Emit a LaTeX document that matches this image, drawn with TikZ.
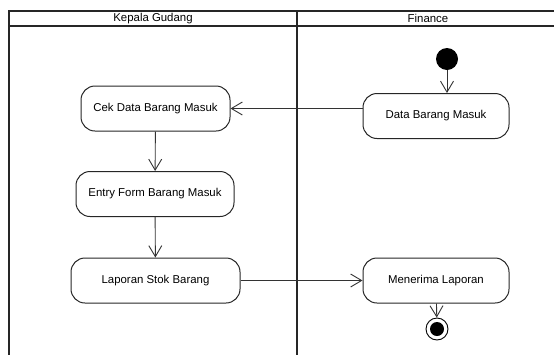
\documentclass[tikz,border=0pt]{standalone}
\usepackage{fontspec}
\setmainfont{Liberation Sans}
\usetikzlibrary{arrows.meta}
\tikzset{
  activity/.style={draw=black!85,line width=1pt,rounded corners=14pt,minimum height=45pt,inner sep=0pt,font=\fontsize{11.4}{13}\selectfont},
  flow/.style={draw=black!80,line width=0.9pt,-{Straight Barb[length=11pt,width=13pt]}},
  lane/.style={line width=2pt,black!85}
}
\begin{document}
\begin{tikzpicture}[x=1pt,y=-1pt]
\useasboundingbox (0,0) rectangle (554,354);
\clip (0,0) rectangle (554,354);
% swimlanes
\draw[lane] (560,11) -- (9,11) -- (9,360);
\draw[lane] (9,26) -- (560,26);
\draw[lane] (297,11) -- (297,360);
\draw (153,18.5) node[font=\fontsize{11.4}{13}\selectfont](kepala) {Kepala Gudang};
\draw (428,18.5) node[font=\fontsize{11.4}{13}\selectfont](finance) {Finance};
% nodes
\draw (447,59) node[circle,fill=black,minimum size=22pt,inner sep=0pt](start) {};
\draw (436,116) node[activity,minimum width=146pt](data) {Data Barang Masuk};
\draw (155.5,108.5) node[activity,minimum width=149pt](cek) {Cek Data Barang Masuk};
\draw (155,194) node[activity,minimum width=158pt](entry) {Entry Form Barang Masuk};
\draw (155.5,280.5) node[activity,minimum width=169pt](laporan) {Laporan Stok Barang};
\draw (436,280.5) node[activity,minimum width=146pt](terima) {Menerima Laporan};
\draw (437,329) node[circle,draw=black,line width=0.9pt,fill=white,minimum size=22pt,inner sep=0pt](end) {};
\fill (end) circle (7pt);
% flows
\draw[flow] (start) -- (start |- data.north);
\draw[flow] (cek.east -| data.west) -- (cek.east);
\draw[flow] (cek) -- (entry);
\draw[flow] (entry) -- (laporan);
\draw[flow] (laporan) -- (terima);
\draw[flow] (terima) -- (end);
\end{tikzpicture}
\end{document}
